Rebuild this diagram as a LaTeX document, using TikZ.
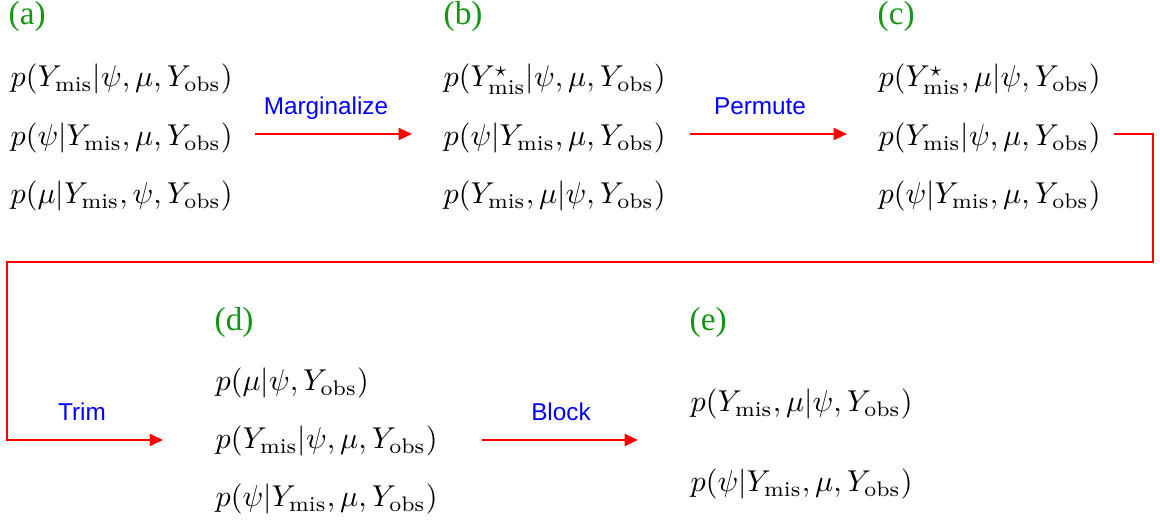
\documentclass[tikz,border=0pt]{standalone}
\usepackage{fontspec}
\newfontfamily\timesf{Liberation Serif}
\newfontfamily\arialf{Liberation Sans}
\usetikzlibrary{arrows.meta}
\definecolor{lblgreen}{RGB}{20,150,20}
\newcommand{\Ymis}{Y_{\mathrm{mis}}}
\newcommand{\Yobs}{Y_{\mathrm{obs}}}
\begin{document}
\begin{tikzpicture}[x=0.3pt,y=-0.3pt,
  stage/.style={font=\timesf\fontsize{10}{12}\selectfont, text=lblgreen, anchor=base west, inner sep=0},
  fml/.style={font=\fontsize{10}{12}\selectfont, scale=0.905, anchor=base west, inner sep=0},
  op/.style={font=\arialf\fontsize{7.3}{9}\selectfont, text=blue, anchor=base, inner sep=0},
  flow/.style={red, line width=0.6pt, -{Triangle[length=4pt,width=3.6pt]}}]
\useasboundingbox (0,0) rectangle (1160,524);
% (a)
\node[stage] (la) at (8,25) {(a)};
\node[fml] (a1) at (10,87) {$p(\Ymis|\psi,\mu,\Yobs)$};
\node[fml] (a2) at (10,146) {$p(\psi|\Ymis,\mu,\Yobs)$};
\node[fml] (a3) at (10,204) {$p(\mu|\Ymis,\psi,\Yobs)$};
% (b)
\node[stage] (lb) at (443,25) {(b)};
\node[fml] (b1) at (443,87) {$p(Y^{\star}_{\mathrm{mis}}|\psi,\mu,\Yobs)$};
\node[fml] (b2) at (443,146) {$p(\psi|\Ymis,\mu,\Yobs)$};
\node[fml] (b3) at (443,204) {$p(\Ymis,\mu|\psi,\Yobs)$};
% (c)
\node[stage] (lc) at (877,25) {(c)};
\node[fml] (c1) at (878,87) {$p(Y^{\star}_{\mathrm{mis}},\mu|\psi,\Yobs)$};
\node[fml] (c2) at (878,146) {$p(\Ymis|\psi,\mu,\Yobs)$};
\node[fml] (c3) at (878,204) {$p(\psi|\Ymis,\mu,\Yobs)$};
% (d)
\node[stage] (ld) at (214,331) {(d)};
\node[fml] (d1) at (215,391) {$p(\mu|\psi,\Yobs)$};
\node[fml] (d2) at (215,449) {$p(\Ymis|\psi,\mu,\Yobs)$};
\node[fml] (d3) at (215,507) {$p(\psi|\Ymis,\mu,\Yobs)$};
% (e)
\node[stage] (le) at (689,331) {(e)};
\node[fml] (e1) at (690,412) {$p(\Ymis,\mu|\psi,\Yobs)$};
\node[fml] (e2) at (690,492) {$p(\psi|\Ymis,\mu,\Yobs)$};
% arrow ends
\coordinate (m0) at (255,134); \coordinate (m1) at (412,134);
\coordinate (p0) at (690,134); \coordinate (p1) at (847,134);
\coordinate (t0) at (1114,134); \coordinate (t1) at (163,440);
\coordinate (k0) at (482,440); \coordinate (k1) at (638,440);
\draw[flow] (m0) -- (m1);
\draw[flow] (p0) -- (p1);
\draw[flow] (t0) -- (1153,134) -- (1153,262) -- (7,262) -- (7,440) -- (t1);
\draw[flow] (k0) -- (k1);
\node[op] (om) at (326,115) {Marginalize};
\node[op] (op) at (760,115) {Permute};
\node[op] (ot) at (82,421) {Trim};
\node[op] (ok) at (561,421) {Block};
\end{tikzpicture}
\end{document}
